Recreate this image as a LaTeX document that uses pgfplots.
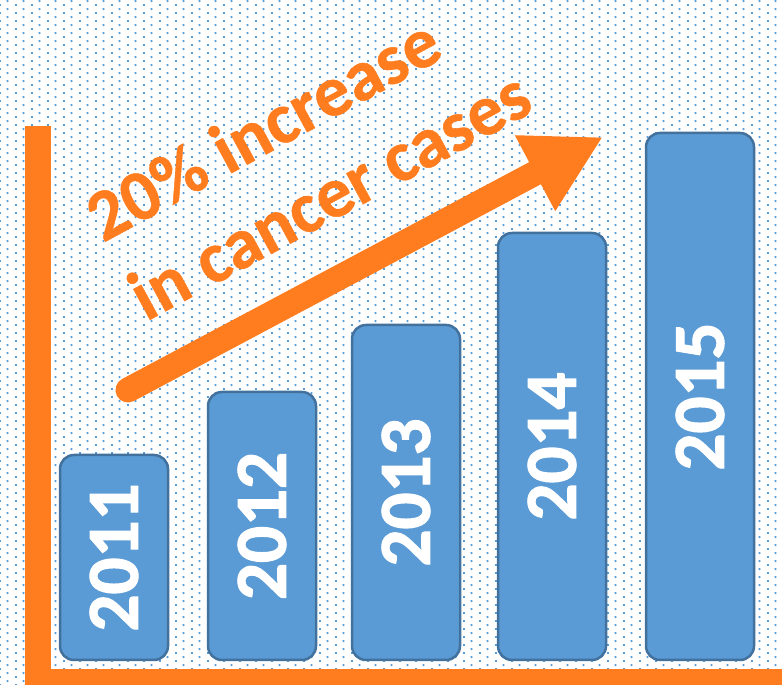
\documentclass[border=0pt]{standalone}
\usepackage{pgfplots}
\pgfplotsset{compat=1.18}
\usepackage{pgfplotstable}
\usepackage{fontspec}
\setmainfont{Carlito}
\newfontfamily\yearfont[FakeBold=1.6]{Carlito Bold}
\newfontfamily\notefont[FakeBold=0.6]{Carlito Bold}
\usetikzlibrary{patterns,arrows.meta}
\definecolor{barblue}{RGB}{91,155,213}
\definecolor{baredge}{RGB}{65,113,156}
\definecolor{dotblue}{RGB}{91,155,213}
\definecolor{orng}{RGB}{255,125,30}
\pgfdeclarepatterninherentlycolored{bgdots}{\pgfpointorigin}{\pgfpoint{16pt}{8.4pt}}{\pgfpoint{16pt}{8.4pt}}{%
  \pgfsetfillcolor{dotblue}%
  \pgfpathrectangle{\pgfpoint{0pt}{0pt}}{\pgfpoint{2pt}{2pt}}%
  \pgfpathrectangle{\pgfpoint{8pt}{4.2pt}}{\pgfpoint{2pt}{2pt}}%
  \pgfusepath{fill}}
\pgfplotstableread{
x   h    mid    year
114 205  102.5  2011
262 268  134    2012
406 335  167.5  2013
552 427  213.5  2014
700 527  263.5  2015
}\bars
\begin{document}
\begin{tikzpicture}
\begin{axis}[
  width=782pt, height=685pt, scale only axis,
  xmin=0, xmax=782, ymin=-25, ymax=660,
  hide axis, clip=false,
]
\fill[white] (axis cs:0,-25) rectangle (axis cs:782,660);
\fill[pattern=bgdots] (axis cs:0,-25) rectangle (axis cs:782,660);
% orange axes
\fill[orng] (axis cs:25,-25) rectangle (axis cs:51,534);
\fill[orng] (axis cs:25,-25) rectangle (axis cs:782,-9);
% bars
\addplot[ybar, bar width=108pt, bar shift=0pt, fill=barblue, draw=baredge,
  line width=2.5pt, rounded corners=14pt] table[x=x, y=h] {\bars};
\addplot[draw=none, mark=none, nodes near coords, point meta=explicit symbolic,
  every node near coord/.style={anchor=center, rotate=90, text=white,
    font=\yearfont\fontsize{73}{73}\selectfont}]
  table[x=x, y=mid, meta=year] {\bars};
% arrow
\draw[orng, line width=25pt, line cap=round, -{Triangle[length=77pt, width=80pt]}]
  (axis cs:128,270) -- (axis cs:603,523);
% text
\node[rotate=28.5, anchor=base west, text=orng, inner sep=0pt,
  font=\notefont\fontsize{72}{90}\selectfont] at (axis cs:103,417) {20\% increase};
\node[rotate=28.5, anchor=base west, text=orng, inner sep=0pt,
  font=\notefont\fontsize{72}{90}\selectfont] at (axis cs:146,338) {in cancer cases};
\end{axis}
\end{tikzpicture}
\end{document}
